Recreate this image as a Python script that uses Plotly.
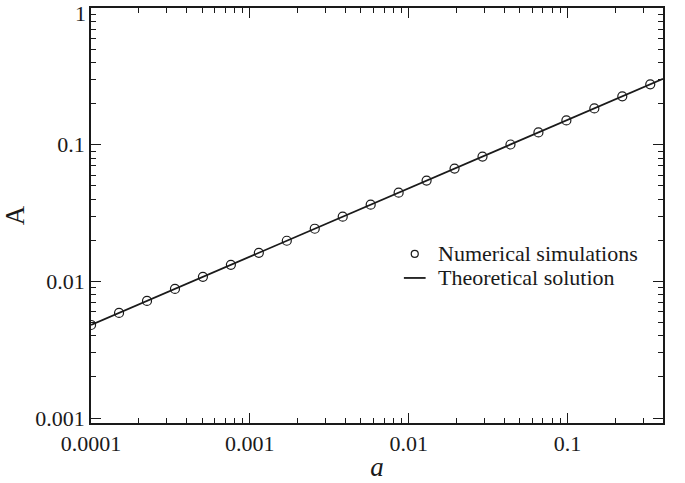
import plotly.graph_objects as go

# Simulation sample points (a grows by a factor 1.5 per step)
a_sim = [0.0001, 0.00015, 0.000225, 0.0003375, 0.00050625, 0.00075938,
         0.0011391, 0.0017086, 0.0025629, 0.0038443, 0.0057665, 0.0086498,
         0.012975, 0.019462, 0.029193, 0.04379, 0.065685, 0.098526,
         0.14779, 0.22168, 0.33253]
A_sim = [0.0048, 0.00588, 0.0072, 0.00882, 0.0108, 0.01323,
         0.0162, 0.01984, 0.0243, 0.02976, 0.03645, 0.04464,
         0.05468, 0.06696, 0.08201, 0.10044, 0.12302, 0.15067,
         0.18453, 0.226, 0.2768]

# Theoretical curve (a straight line on log-log axes)
a_theory = [0.0001, 0.4]
A_theory = [0.0048, 0.3036]

x_tickvals = [0.0001, 0.001, 0.01, 0.1]
x_ticktext = ["0.0001", "0.001", "0.01", "0.1"]
y_tickvals = [0.001, 0.01, 0.1, 1]
y_ticktext = ["0.001", "0.01", "0.1", ""]
y_top_label = "1"   # drawn separately so it stays inside the figure

legend_labels = ["Numerical simulations", "Theoretical solution"]

FONT = "Liberation Serif"
INK = "#1a1a1a"

fig = go.Figure()
fig.add_trace(go.Scatter(
    x=a_theory, y=A_theory, mode="lines",
    line=dict(color=INK, width=1.8), showlegend=False,
))
fig.add_trace(go.Scatter(
    x=a_sim, y=A_sim, mode="markers",
    marker=dict(symbol="circle-open", size=9, color=INK, line=dict(width=1.2)),
    showlegend=False,
))

axis_common = dict(
    type="log",
    showgrid=False,
    zeroline=False,
    showline=True,
    linecolor=INK,
    linewidth=1.8,
    mirror="allticks",
    ticks="inside",
    ticklen=10,
    tickwidth=1.3,
    tickcolor=INK,
    tickfont=dict(family=FONT, size=22, color=INK),
    minor=dict(ticks="inside", ticklen=5, tickwidth=1.1, tickcolor=INK,
               dtick="D1", showgrid=False),
)

fig.update_xaxes(
    **axis_common,
    range=[-4.0005, -0.39794],
    tickvals=x_tickvals, ticktext=x_ticktext,
    title=dict(text="<i>a</i>", font=dict(family=FONT, size=27, color=INK),
               standoff=2),
)
fig.update_yaxes(
    **axis_common,
    range=[-3.036, 0.0008],
    tickvals=y_tickvals, ticktext=y_ticktext,
    title=dict(text="A", font=dict(family=FONT, size=27, color=INK),
               standoff=10),
)

# Label for the top y tick
fig.add_annotation(text=y_top_label, xref="paper", yref="y",
                   x=0, y=0, xanchor="right", yanchor="middle",
                   xshift=-3, yshift=-5, showarrow=False,
                   font=dict(family=FONT, size=22, color=INK))

# Hand-placed legend box inside the plot area
legend_rows = [0.4076, 0.3495]
fig.add_shape(type="circle", xref="paper", yref="paper",
              xsizemode="pixel", ysizemode="pixel",
              xanchor=0.566, yanchor=legend_rows[0],
              x0=-3.5, x1=3.5, y0=-3.5, y1=3.5,
              line=dict(color=INK, width=1.2))
fig.add_shape(type="line", xref="paper", yref="paper",
              x0=0.547, x1=0.585, y0=legend_rows[1], y1=legend_rows[1],
              line=dict(color=INK, width=1.8))
for label, yy in zip(legend_labels, legend_rows):
    fig.add_annotation(text=label, xref="paper", yref="paper",
                       x=0.604, y=yy, xanchor="left", yanchor="middle",
                       showarrow=False,
                       font=dict(family=FONT, size=22, color=INK))

fig.update_layout(
    width=685, height=483,
    margin=dict(l=80, r=22, t=6, b=55),
    paper_bgcolor="white",
    plot_bgcolor="white",
    font=dict(family=FONT, color=INK),
)

fig.write_html("out.html")
